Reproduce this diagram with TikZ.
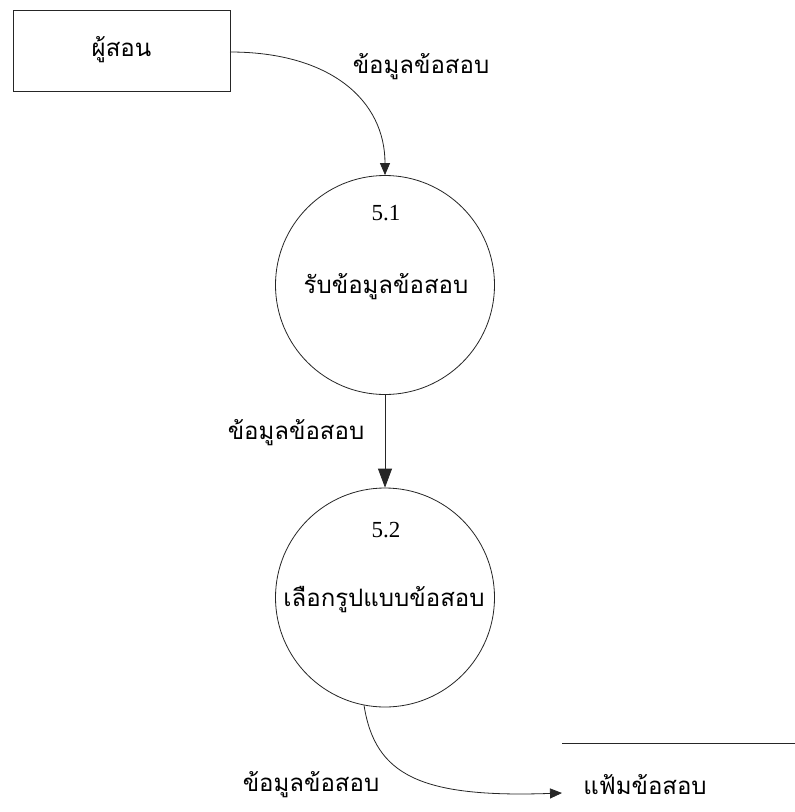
\documentclass[tikz,border=0pt]{standalone}
\usepackage{fontspec}
\setmainfont{Liberation Serif}
\newfontfamily\thaifont[Script=Thai]{Loma}
\usetikzlibrary{arrows.meta}
\begin{document}
\begin{tikzpicture}[x=1pt,y=-1pt,
  line width=0.8pt, draw=black!85,
  thai/.style={font=\thaifont\fontsize{24}{28}\selectfont, inner sep=0pt},
  num/.style={font=\fontsize{23}{25}\selectfont, inner sep=0pt},
  entity/.style={draw, rectangle, minimum width=217pt, minimum height=81pt, inner sep=0pt},
  process/.style={draw, circle, minimum size=219pt, inner sep=0pt},
  flow/.style={-{Triangle[length=12pt,width=10pt]}},
  bigflow/.style={-{Triangle[length=19pt,width=14pt]}}]
\useasboundingbox (0,0) rectangle (795,812);
\fill[white] (0,0) rectangle (795,812);

\node[entity] (teacher) at (121.5,50.5) {};
\node[thai] (teachertxt) at (121.5,50) {ผู้สอน};

\node[process] (p1) at (385,285) {};
\node[num] (p1num) at (386,213) {5.1};
\node[thai] (p1name) at (386,287) {รับข้อมูลข้อสอบ};

\node[process] (p2) at (385,597.5) {};
\node[num] (p2num) at (386,530) {5.2};
\node[thai] (p2name) at (384,600) {เลือกรูปแบบข้อสอบ};

\coordinate (storeL) at (562,743);
\coordinate (storeR) at (795,743);
\draw (storeL) -- (storeR);
\node[thai] (store) at (645,785) {แฟ้มข้อสอบ};
\coordinate (storein) at (562,793);

\coordinate (tstart) at (230,52);
\draw[flow] (tstart) .. controls (330,52) and (385,100) .. (p1.north);
\node[thai] (lab1) at (421,67) {ข้อมูลข้อสอบ};

\draw[bigflow] (p1.south) -- (p2.north);
\node[thai] (lab2) at (296,433) {ข้อมูลข้อสอบ};

\draw[flow] (p2.-101) .. controls (375,775) and (420,798) .. (storein);
\node[thai] (lab3) at (311,785) {ข้อมูลข้อสอบ};
\end{tikzpicture}
\end{document}
